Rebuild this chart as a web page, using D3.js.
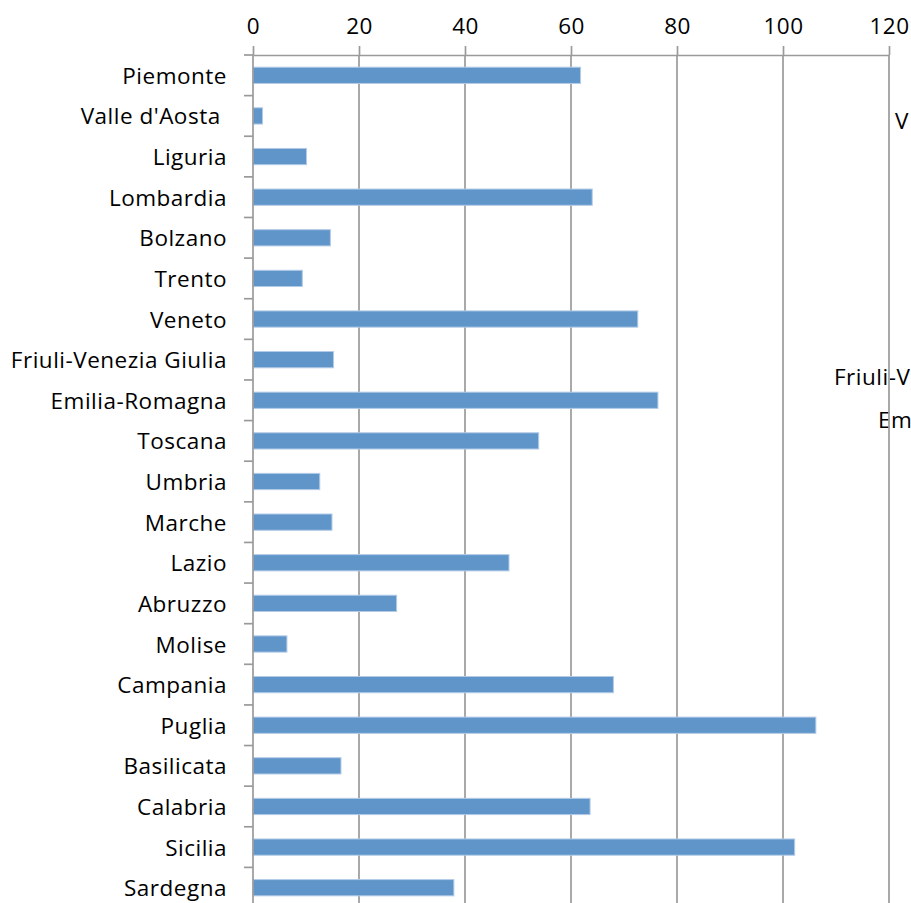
<!DOCTYPE html>
<html>
<head>
<meta charset="utf-8">
<script src="https://cdn.jsdelivr.net/npm/d3@7"></script>
<style>
  html, body { margin: 0; padding: 0; background: #fff; overflow: hidden; }
  svg { display: block; }
  text { font-family: "Open Sans", "Noto Sans", sans-serif; fill: #000; letter-spacing: 0.5px; }
</style>
</head>
<body>
<svg id="chart" width="911" height="903"></svg>
<script>
// Regions in display order (top to bottom)
const regions = [
  "Piemonte", "Valle d'Aosta ", "Liguria", "Lombardia", "Bolzano", "Trento",
  "Veneto", "Friuli-Venezia Giulia", "Emilia-Romagna", "Toscana", "Umbria",
  "Marche", "Lazio", "Abruzzo", "Molise", "Campania", "Puglia",
  "Basilicata", "Calabria", "Sicilia", "Sardegna"
];
const values = [
  61.8, 1.8, 10.1, 64.0, 14.6, 9.3,
  72.6, 15.2, 76.4, 53.9, 12.6,
  14.9, 48.3, 27.1, 6.4, 68.0, 106.2,
  16.6, 63.6, 102.2, 37.9
];
const xTicks = [0, 20, 40, 60, 80, 100, 120];

// Beginnings of the neighbouring chart's labels that reach into this frame
const neighbourRows = ["Valle d'Aosta ", "Friuli-Venezia Giulia", "Emilia-Romagna"];
const neighbourText = ["V", "Friuli-V", "Em"];

const svg = d3.select("#chart");
const fontSize = 22.5;
const gridColor = "#9a9a9a";
const barFill = "#5f95c9";
const barEdge = "#b3cbe7";

const plotLeft = 253, plotRight = 889, plotTop = 55, rowStep = 40.62;
const x = d3.scaleLinear().domain([0, 120]).range([plotLeft, plotRight]);
const y = d3.scaleBand()
  .domain(regions)
  .range([plotTop, plotTop + rowStep * regions.length])
  .paddingInner(0.6)
  .paddingOuter(0.3);

// Neighbouring chart uses a slightly taller row step
const neighbour = d3.scaleBand()
  .domain(regions)
  .range([57.7, 57.7 + 42.6 * regions.length]);
const neighbourStart = [895, 834, 878];
svg.append("g")
  .selectAll("text")
  .data(neighbourRows)
  .join("text")
  .attr("x", (d, i) => neighbourStart[i])
  .attr("y", d => neighbour(d) + neighbour.bandwidth() / 2)
  .attr("dy", "0.35em")
  .style("font-size", fontSize + "px")
  .text((d, i) => neighbourText[i]);

// Vertical gridlines
svg.append("g")
  .selectAll("line")
  .data(xTicks.slice(1))
  .join("line")
  .attr("x1", d => x(d)).attr("x2", d => x(d))
  .attr("y1", plotTop).attr("y2", y.range()[1])
  .attr("stroke", gridColor)
  .attr("stroke-width", 1.7);

// Bars
svg.append("g")
  .selectAll("rect")
  .data(regions.map((r, i) => ({ r, v: values[i] })))
  .join("rect")
  .attr("x", x(0))
  .attr("y", d => y(d.r))
  .attr("width", d => x(d.v) - x(0))
  .attr("height", y.bandwidth())
  .attr("fill", barFill)
  .attr("stroke", barEdge)
  .attr("stroke-width", 1);

// Top value axis
const xAxis = d3.axisTop(x)
  .tickValues(xTicks)
  .tickSize(9)
  .tickSizeOuter(0)
  .tickPadding(12)
  .tickFormat(d3.format("d"));
const gx = svg.append("g")
  .attr("transform", `translate(0,${plotTop})`)
  .call(xAxis);
gx.attr("font-family", null).attr("font-size", null);
gx.select(".domain").attr("stroke", gridColor).attr("stroke-width", 1.7);
gx.selectAll(".tick line").attr("stroke", gridColor).attr("stroke-width", 1.7);
gx.selectAll(".tick text")
  .attr("fill", "#000")
  .style("font-size", fontSize + "px");

// Left category axis: line plus ticks at band boundaries
const gy = svg.append("g");
gy.append("line")
  .attr("x1", plotLeft).attr("x2", plotLeft)
  .attr("y1", plotTop).attr("y2", y.range()[1])
  .attr("stroke", gridColor).attr("stroke-width", 1.7);
gy.selectAll("line.b")
  .data(d3.range(regions.length + 1))
  .join("line")
  .attr("class", "b")
  .attr("x1", plotLeft - 9).attr("x2", plotLeft)
  .attr("y1", i => plotTop + i * y.step())
  .attr("y2", i => plotTop + i * y.step())
  .attr("stroke", gridColor).attr("stroke-width", 1.7);
gy.selectAll("text")
  .data(regions)
  .join("text")
  .attr("x", 227)
  .attr("y", d => y(d) + y.bandwidth() / 2)
  .attr("dy", "0.38em")
  .attr("text-anchor", "end")
  .style("white-space", "pre")
  .style("font-size", fontSize + "px")
  .text(d => d);
</script>
</body>
</html>
